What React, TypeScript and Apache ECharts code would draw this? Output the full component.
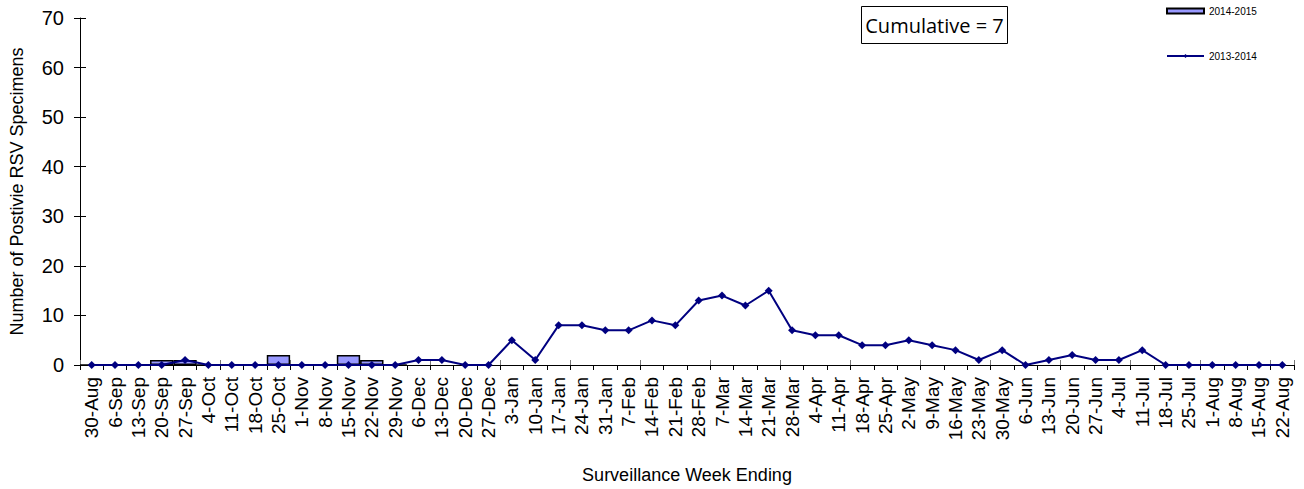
import React, { useEffect, useRef } from "react";
import * as echarts from "echarts";

const categories = ["30-Aug","6-Sep","13-Sep","20-Sep","27-Sep","4-Oct","11-Oct","18-Oct","25-Oct","1-Nov","8-Nov","15-Nov","22-Nov","29-Nov","6-Dec","13-Dec","20-Dec","27-Dec","3-Jan","10-Jan","17-Jan","24-Jan","31-Jan","7-Feb","14-Feb","21-Feb","28-Feb","7-Mar","14-Mar","21-Mar","28-Mar","4-Apr","11-Apr","18-Apr","25-Apr","2-May","9-May","16-May","23-May","30-May","6-Jun","13-Jun","20-Jun","27-Jun","4-Jul","11-Jul","18-Jul","25-Jul","1-Aug","8-Aug","15-Aug","22-Aug"];

const season2014_2015 = [0,0,0,1,1,0,0,0,2,0,0,2,1,0,null,null,null,null,null,null,null,null,null,null,null,null,null,null,null,null,null,null,null,null,null,null,null,null,null,null,null,null,null,null,null,null,null,null,null,null,null,null];

const season2013_2014 = [0,0,0,0,1,0,0,0,0,0,0,0,0,0,1,1,0,0,5,1,8,8,7,7,9,8,13,14,12,15,7,6,6,4,4,5,4,3,1,3,0,1,2,1,1,3,0,0,0,0,0,0];

const yTicks = { min: 0, max: 70, interval: 10 };

export default function App() {
  const ref = useRef<HTMLDivElement>(null);
  useEffect(() => {
    if (!ref.current) return;
    const chart = echarts.init(ref.current, null, { renderer: "svg" });
    const font = "Arial, 'Liberation Sans', sans-serif";
    chart.setOption({
      animation: false,
      backgroundColor: "#ffffff",
      textStyle: { fontFamily: font },
      grid: { left: 73, right: 10, top: 18, bottom: 121, containLabel: false },
      legend: {
        orient: "vertical",
        left: 1166,
        top: 6,
        padding: 0,
        itemGap: 35,
        itemWidth: 37,
        itemHeight: 5,
        textStyle: { fontSize: 10, color: "#000", fontFamily: font },
        data: [
          { name: "2014-2015", icon: "rect" },
          { name: "2013-2014" },
        ],
      },
      xAxis: [
        {
          type: "category",
          data: categories,
          boundaryGap: true,
          axisLine: { lineStyle: { color: "#000", width: 1 } },
          axisTick: { show: true, alignWithLabel: false, length: 5, lineStyle: { color: "#000" } },
          axisLabel: { rotate: 90, fontSize: 19, color: "#000", margin: 12, interval: 0, fontFamily: font },
          name: "Surveillance Week Ending",
          nameLocation: "middle",
          nameGap: 101,
          nameTextStyle: { fontSize: 18, color: "#000", fontFamily: font },
          splitLine: { show: false },
        },
        {
          type: "category",
          data: categories,
          position: "bottom",
          boundaryGap: true,
          axisLine: { show: false },
          axisTick: { show: true, inside: true, length: 5, lineStyle: { color: "#777" } },
          axisLabel: { show: false },
          splitLine: { show: false },
        },
      ],
      yAxis: [
        {
          type: "value",
          min: yTicks.min,
          max: yTicks.max,
          interval: yTicks.interval,
          axisLine: { show: true, lineStyle: { color: "#000" } },
          axisTick: { show: true, length: 6, lineStyle: { color: "#000" } },
          axisLabel: { fontSize: 20, color: "#000", margin: 16, fontFamily: font },
          splitLine: { show: false },
          name: "Number of Postivie RSV Specimens",
          nameLocation: "middle",
          nameRotate: 90,
          nameGap: 54,
          nameTextStyle: { fontSize: 18, color: "#000", fontFamily: font },
        },
        {
          type: "value",
          min: yTicks.min,
          max: yTicks.max,
          interval: yTicks.interval,
          position: "left",
          axisLine: { show: false },
          axisTick: { show: true, inside: true, length: 6, lineStyle: { color: "#000" } },
          axisLabel: { show: false },
          splitLine: { show: false },
        },
      ],
      series: [
        {
          name: "2014-2015",
          type: "bar",
          data: season2014_2015,
          barCategoryGap: "0%",
          itemStyle: { color: "#9999ff", borderColor: "#000", borderWidth: 1.5 },
          z: 2,
        },
        {
          name: "2013-2014",
          type: "line",
          data: season2013_2014,
          symbol: "diamond",
          symbolSize: 8,
          itemStyle: { color: "#000080" },
          lineStyle: { color: "#000080", width: 2 },
          z: 3,
        },
      ],
      graphic: [
        {
          type: "group",
          left: 861,
          top: 6,
          children: [
            {
              type: "rect",
              shape: { x: 0, y: 0, width: 146, height: 37 },
              style: { fill: "#fff", stroke: "#000", lineWidth: 1 },
            },
            {
              type: "text",
              x: 73,
              y: 19,
              style: {
                text: "Cumulative = 7",
                fontSize: 20,
                fontFamily: "'Open Sans', 'Liberation Sans', sans-serif",
                fill: "#000",
                align: "center",
                verticalAlign: "middle",
              },
            },
          ],
        },
      ],
    });
    return () => chart.dispose();
  }, []);
  return <div ref={ref} style={{ width: 1304, height: 489, position: "absolute", left: 0, top: 0 }} />;
}
